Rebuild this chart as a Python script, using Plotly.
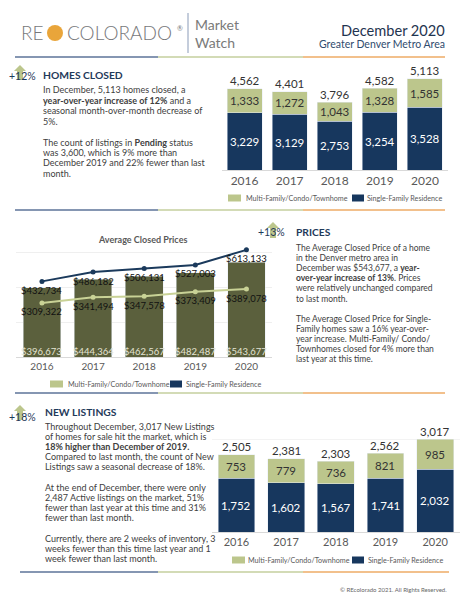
import plotly.graph_objects as go

W, H = 460, 602
FONT = "Lato"

years = ["2016", "2017", "2018", "2019", "2020"]
closed_mf = [1333, 1272, 1043, 1328, 1585]
closed_sfr = [3229, 3129, 2753, 3254, 3528]
price_avg = [396673, 444364, 462567, 482487, 543677]
price_sfr = [432734, 486182, 506131, 527003, 613133]
price_mf = [309322, 341494, 347578, 373409, 389078]
new_mf = [753, 779, 736, 821, 985]
new_sfr = [1752, 1602, 1567, 1741, 2032]
legend_labels = ["Multi-Family/Condo/Townhome", "Single-Family Residence"]

GREEN = "#bcc68c"
NAVY = "#17375e"
OLIVE = "#5b603d"
LGREEN = "#c9d296"
TXT = "#404040"
HEAD = "#1f3a5a"

pos = list(range(len(years)))


def X(px):
    return px / W


def Y(py):
    return 1 - py / H


ann = []
shapes = []


def text(x, y, s, size=9, color=TXT, anchor="left", weight=None):
    f = dict(family=FONT, size=size, color=color)
    if weight:
        f["weight"] = weight
    ann.append(dict(x=X(x), y=Y(y), xref="paper", yref="paper", text=s,
                    showarrow=False, xanchor=anchor, yanchor="middle", font=f))


def line(x0, y0, x1, y1, color, w=2):
    shapes.append(dict(type="line", xref="paper", yref="paper",
                       x0=X(x0), y0=Y(y0), x1=X(x1), y1=Y(y1),
                       line=dict(color=color, width=w)))


def rect(x0, y0, x1, y1, color):
    shapes.append(dict(type="rect", xref="paper", yref="paper",
                       x0=X(x0), y0=Y(y0), x1=X(x1), y1=Y(y1),
                       fillcolor=color, line=dict(width=0)))


def sep(y, x0=15, x1=445):
    line(x0, y, 158, y, "#8596b2")
    line(158, y, 303, y, "#d3dbb6")
    line(303, y, x1, y, "#f2c08c")


def arrow(cx, top, bottom, hw=6, sw=3, hh=6):
    pts = [(cx, top), (cx + hw, top + hh), (cx + sw, top + hh), (cx + sw, bottom),
           (cx - sw, bottom), (cx - sw, top + hh), (cx - hw, top + hh)]
    path = "M " + " L ".join(f"{X(a):.5f},{Y(b):.5f}" for a, b in pts) + " Z"
    shapes.append(dict(type="path", xref="paper", yref="paper", path=path,
                       fillcolor="#bcc68c", line=dict(width=0)))


def legend(y, gx, tx1, nx, tx2, size=7.2):
    rect(gx, y - 3.5, gx + 13, y + 3.5, GREEN)
    text(tx1, y, legend_labels[0], size, "#595959")
    rect(nx, y - 3.5, nx + 12, y + 3.5, NAVY)
    text(tx2, y, legend_labels[1], size, "#595959")


def para(x, y0, step, lines, size=9):
    y = y0
    for s in lines:
        if s:
            text(x, y, s, size, TXT)
        y += step


# ---------- header ----------
text(19, 33, "RE", 19, "#77787b", weight=300)
shapes.append(dict(type="circle", xref="paper", yref="paper", x0=X(47), y0=Y(41),
                   x1=X(63), y1=Y(25), fillcolor="#e9a53a", line=dict(width=0)))
text(65, 33, "COLORADO", 19, "#77787b", weight=300)
text(175, 28, "®", 7, "#77787b")
line(188, 13, 188, 53, "#8a9bb8", 1)
text(193, 25, "Market", 14, "#7a7a7a")
text(193, 42, "Watch", 14, "#7a7a7a")
text(447, 31, "December 2020", 14.6, "#1f3450", "right")
text(447, 44, "Greater Denver Metro Area", 10.5, "#2f4b6e", "right")
sep(57)

# ---------- section 1 ----------
arrow(20, 65, 80)
text(7, 76, "+12%", 10.5, HEAD)
text(41, 75, "<b>HOMES CLOSED</b>", 10.3, HEAD)
para(41, 90, 10.4, [
    "In December, 5,113 homes closed, a",
    "<b>year-over-year increase of 12%</b> and a",
    "seasonal month-over-month decrease of",
    "5%.",
    "",
    "The count of listings in <b>Pending</b> status",
    "was 3,600, which is 9% more than",
    "December 2019 and 22% fewer than last",
    "month.",
])
legend(198, 228, 244, 352, 365)
sep(210)

# ---------- section 2 ----------
arrow(273, 222, 238)
text(256, 232, "+13%", 10.5, HEAD)
text(294, 232, "<b>PRICES</b>", 10.3, HEAD)
para(294, 248, 10.1, [
    "The Average Closed Price of a home",
    "in the Denver metro area in",
    "December was $543,677, a <b>year-</b>",
    "<b>over-year increase of 13%</b>. Prices",
    "were relatively unchanged compared",
    "to last month.",
    "",
    "The Average Closed Price for Single-",
    "Family homes saw a 16% year-over-",
    "year increase. Multi-Family/ Condo/",
    "Townhomes closed for 4% more than",
    "last year at this time.",
], size=8.5)
text(142, 239, "<b>Average Closed Prices</b>", 9, "#595959", "center")
legend(384, 50, 66, 170, 184)
sep(393)

# ---------- section 3 ----------
arrow(20, 405, 420)
text(7, 417, "+18%", 10.5, HEAD)
text(43, 412, "<b>NEW LISTINGS</b>", 10.3, HEAD)
para(43, 426, 10.2, [
    "Throughout December, 3,017 New Listings",
    "of homes for sale hit the market, which is",
    "<b>18% higher than December of 2019.</b>",
    "Compared to last month, the count of New",
    "Listings saw a seasonal decrease of 18%.",
    "",
    "At the end of December, there were only",
    "2,487 Active listings on the market, 51%",
    "fewer than last year at this time and 31%",
    "fewer than last month.",
    "",
    "Currently, there are 2 weeks of inventory, 3",
    "weeks fewer than this time last year and 1",
    "week fewer than last month.",
])
legend(560, 232, 246, 352, 366)
sep(572, 20, 449)
text(449, 589, "© REcolorado 2021. All Rights Reserved.", 6, "#666666", "right")

# ---------- charts ----------
fig = go.Figure()

# chart 1
fig.add_trace(go.Bar(x=pos, y=closed_sfr, marker_color=NAVY, width=0.776,
                     xaxis="x", yaxis="y", hoverinfo="skip"))
fig.add_trace(go.Bar(x=pos, y=closed_mf, marker_color=GREEN, width=0.776,
                     xaxis="x", yaxis="y", hoverinfo="skip"))
# chart 3
fig.add_trace(go.Bar(x=pos, y=new_sfr, marker_color=NAVY, width=0.74,
                     xaxis="x3", yaxis="y3", hoverinfo="skip"))
fig.add_trace(go.Bar(x=pos, y=new_mf, marker_color=GREEN, width=0.74,
                     xaxis="x3", yaxis="y3", hoverinfo="skip"))
# chart 2
fig.add_trace(go.Bar(x=pos, y=price_avg, marker_color=OLIVE, width=0.74,
                     xaxis="x2", yaxis="y2", hoverinfo="skip"))
fig.add_trace(go.Scatter(x=pos, y=price_sfr, mode="lines+markers",
                         line=dict(color="#1b3a5c", width=2), marker=dict(size=5),
                         xaxis="x2", yaxis="y2", hoverinfo="skip"))
fig.add_trace(go.Scatter(x=pos, y=price_mf, mode="lines+markers",
                         line=dict(color=LGREEN, width=2), marker=dict(size=5),
                         xaxis="x2", yaxis="y2", hoverinfo="skip"))


def stack_labels(xa, ya, sfr, mf, size):
    for p, s, m in zip(pos, sfr, mf):
        ann.append(dict(x=p, y=s / 2, xref=xa, yref=ya, text=f"{s:,}", showarrow=False,
                        font=dict(family=FONT, size=size, color="white")))
        ann.append(dict(x=p, y=s + m / 2, xref=xa, yref=ya, text=f"{m:,}", showarrow=False,
                        font=dict(family=FONT, size=size, color="#333333")))
        ann.append(dict(x=p, y=s + m, xref=xa, yref=ya, text=f"{s + m:,}", showarrow=False,
                        yshift=8, font=dict(family=FONT, size=size, color="#333333")))


stack_labels("x", "y", closed_sfr, closed_mf, 11.5)
stack_labels("x3", "y3", new_sfr, new_mf, 11.5)

for p, a, s, m in zip(pos, price_avg, price_sfr, price_mf):
    ann.append(dict(x=p, y=0, xref="x2", yref="y2", text=f"${a:,}", showarrow=False,
                    yshift=6, font=dict(family=FONT, size=9.5, color="#e4e4d4")))
    ann.append(dict(x=p, y=s, xref="x2", yref="y2", text=f"${s:,}", showarrow=False,
                    yshift=-9, font=dict(family=FONT, size=9.5, color="#111111")))
    ann.append(dict(x=p, y=m, xref="x2", yref="y2", text=f"${m:,}", showarrow=False,
                    yshift=-9, font=dict(family=FONT, size=9.5, color="#111111")))

xa_common = dict(range=[-0.5, 4.5], tickvals=pos, ticktext=years,
                 showline=True, linecolor="#d9d9d9", linewidth=1,
                 ticks="", showgrid=False, zeroline=False, fixedrange=True)

fig.update_layout(
    width=W, height=H, margin=dict(l=0, r=0, t=0, b=0),
    paper_bgcolor="white", plot_bgcolor="rgba(0,0,0,0)",
    showlegend=False, barmode="stack",
    font=dict(family=FONT),
    xaxis=dict(domain=[X(222), X(447.5)], anchor="y",
               tickfont=dict(family=FONT, size=12, color="#595959"), **xa_common),
    yaxis=dict(domain=[Y(170), Y(63.2)], range=[0, 6000], visible=False, fixedrange=True),
    xaxis2=dict(domain=[X(16.4), X(272)], anchor="y2",
                tickfont=dict(family=FONT, size=10, color="#595959"), **xa_common),
    yaxis2=dict(domain=[Y(357), Y(245)], range=[0, 641000], showgrid=True,
                gridcolor="#efefef", tickvals=[200000, 400000, 600000],
                showticklabels=False, zeroline=False, showline=False, fixedrange=True),
    xaxis3=dict(domain=[X(211.6), 1.0], anchor="y3",
                tickfont=dict(family=FONT, size=11, color="#595959"), **xa_common),
    yaxis3=dict(domain=[Y(532), Y(430)], range=[0, 3310], showgrid=True,
                gridcolor="#f3f3f3", tickvals=[3000], showticklabels=False,
                zeroline=False, showline=False, fixedrange=True),
    annotations=ann, shapes=shapes,
)

fig.write_html("out.html")
